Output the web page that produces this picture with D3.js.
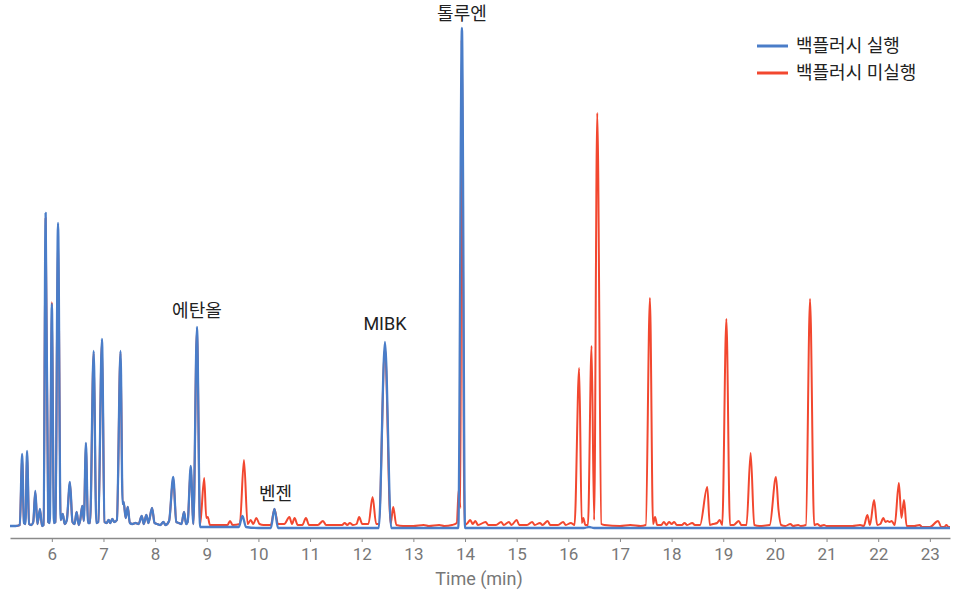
<!DOCTYPE html>
<html><head><meta charset="utf-8">
<script src="https://cdn.jsdelivr.net/npm/d3@7/dist/d3.min.js"></script>
<style>
body{margin:0;background:#fff;}
svg{display:block;font-family:Roboto,"Noto Sans CJK KR",sans-serif;}
</style></head>
<body><svg id="chart" width="959" height="592"></svg>
<script>
// ---- data (time in min, signal in arbitrary units) ----
const xTicks = [6,7,8,9,10,11,12,13,14,15,16,17,18,19,20,21,22,23];
const seriesNames = ["백플러시 실행","백플러시 미실행"];
const seriesColors = ["#4a7dc8","#f2472f"];
const xTitle = "Time (min)";

const blueTime = [5.19,5.30,5.38,5.425,5.46,5.49,5.52,5.56,5.60,5.64,5.68,5.72,5.77,5.81,5.84,5.88,5.93,5.96,6.00,6.04,6.07,6.12,6.17,6.21,6.25,6.29,6.35,6.40,6.44,6.48,6.52,6.55,6.59,6.62,6.66,6.70,6.74,6.81,6.86,6.90,6.97,7.02,7.06,7.10,7.13,7.17,7.21,7.26,7.33,7.37,7.39,7.43,7.47,7.51,7.56,7.62,7.68,7.74,7.78,7.83,7.87,7.94,7.99,8.04,8.10,8.16,8.20,8.27,8.35,8.41,8.46,8.51,8.56,8.60,8.63,8.69,8.74,8.81,8.87,8.95,9.3,9.62,9.69,9.76,10.0,10.24,10.31,10.38,11.0,12.0,12.33,12.45,12.57,13.0,13.5,13.87,13.94,14.0,14.5,16.3,16.4,16.5,17.0,20.0,23.39];
const blueSignal = [2,2,3,74,5,4,77,4,3,6,37,4,19,2,3,315,6,5,224,5,6,305,8,14,4,8,46,6,4,16,3,8,22,7,85,5,5,177,5,6,189,6,5,8,5,9,6,8,177,24,26,10,21,5,4,5,4,12,4,13,5,20,5,4,3,6,3,7,51,6,5,4,16,4,6,62,4,201,1,1,1,1,12,1,0,0,19,0,0,0,0,186,0,0,0,0,500,0,0,0,1,0,0,0,0];

const redTime = [5.19,5.30,5.38,5.425,5.46,5.49,5.52,5.56,5.60,5.64,5.68,5.72,5.77,5.81,5.84,5.88,5.93,5.96,6.00,6.04,6.07,6.12,6.17,6.21,6.25,6.29,6.35,6.40,6.44,6.48,6.52,6.55,6.59,6.62,6.66,6.70,6.74,6.81,6.86,6.90,6.97,7.02,7.06,7.10,7.13,7.17,7.21,7.26,7.33,7.37,7.39,7.43,7.47,7.51,7.56,7.62,7.68,7.74,7.78,7.83,7.87,7.94,7.99,8.04,8.10,8.16,8.20,8.27,8.35,8.41,8.46,8.51,8.56,8.60,8.63,8.69,8.74,8.81,8.87,8.95,8.99,9.02,9.06,9.3,9.40,9.45,9.50,9.64,9.72,9.79,9.85,9.90,9.96,10.02,10.1,10.24,10.31,10.38,10.5,10.60,10.65,10.70,10.76,10.85,10.92,10.98,11.15,11.25,11.31,11.5,11.62,11.67,11.72,11.77,11.83,11.9,11.95,12.01,12.13,12.21,12.28,12.33,12.45,12.56,12.61,12.67,12.8,13.0,13.2,13.3,13.5,13.6,13.75,13.84,13.88,13.91,13.935,13.99,14.05,14.1,14.15,14.2,14.25,14.4,14.45,14.6,14.7,14.75,14.85,14.9,15.0,15.05,15.2,15.3,15.35,15.45,15.5,15.6,15.65,15.8,15.9,15.95,16.05,16.12,16.21,16.26,16.29,16.33,16.38,16.45,16.50,16.56,16.64,16.7,17.0,17.2,17.4,17.5,17.58,17.64,17.68,17.72,17.8,17.85,17.9,17.95,18.0,18.05,18.1,18.2,18.25,18.3,18.4,18.45,18.55,18.69,18.74,18.8,18.88,18.93,18.98,19.06,19.13,19.2,19.30,19.35,19.45,19.53,19.60,19.7,19.9,20.02,20.07,20.12,20.2,20.3,20.35,20.45,20.5,20.6,20.68,20.76,20.82,20.88,20.95,21.0,21.5,21.65,21.72,21.79,21.84,21.92,21.98,22.04,22.10,22.14,22.18,22.22,22.26,22.32,22.40,22.45,22.50,22.55,22.7,22.8,22.85,23.0,23.16,23.22,23.28,23.32,23.36,23.39];
const redSignal = [2,2,3,72,5,4,75,4,3,6,36,4,18,2,3,310,6,5,226,5,6,300,8,14,4,8,45,6,4,16,3,8,22,7,84,5,5,175,5,6,186,6,5,8,5,9,6,8,175,24,26,10,21,5,4,5,4,12,4,13,5,20,5,4,3,6,3,7,50,6,5,4,16,4,6,60,4,198,3,50,10,11,3,3,3,7,3,4,68,4,8,4,10,4,3,3,19,4,4,11,4,10,3,3,10,3,3,7,3,3,3,5,3,5,3,4,11,4,4,31,4,4,180,4,21,3,2,2,3,2,3,2,3,5,39,20,488,3,5,8,4,7,3,6,3,3,6,3,6,3,8,3,3,6,3,5,3,7,3,3,6,3,5,3,160,5,10,3,3,182,8,415,4,3,2,3,2,3,230,4,11,3,3,6,3,6,4,6,3,3,5,3,5,3,3,41,3,4,5,8,3,209,3,3,7,3,3,75,3,2,3,51,18,3,2,4,2,3,2,3,229,3,4,2,3,2,2,3,2,13,3,28,3,4,10,6,7,6,7,3,45,10,28,2,2,3,1,1,7,1,1,3,1,1];

const labels = [
  {text:"톨루엔", t:13.94, v:500},
  {text:"에탄올", t:8.81, v:201},
  {text:"MIBK", t:12.45, v:186},
  {text:"벤젠", t:10.31, v:19}
];

// ---- drawing ----
const svg = d3.select("#chart");
const x = d3.scaleLinear().domain([5.19, 23.39]).range([10, 950]);
const y = d3.scaleLinear().domain([0, 500]).range([528, 28]);

const line = d3.line().x(d=>x(d[0])).y(d=>y(d[1])).curve(d3.curveMonotoneX);

const red = d3.zip(redTime, redSignal);
const blue = d3.zip(blueTime, blueSignal);

svg.append("path").datum(red).attr("d", line)
  .attr("fill","none").attr("stroke",seriesColors[1]).attr("stroke-width",2).attr("stroke-linejoin","round");
svg.append("path").datum(blue).attr("d", line)
  .attr("fill","none").attr("stroke",seriesColors[0]).attr("stroke-width",2.3).attr("stroke-linejoin","round");

// axis
const ax = svg.append("g").attr("transform","translate(0,538)")
  .call(d3.axisBottom(x).tickValues(xTicks).tickFormat(d3.format("d")).tickSize(4).tickSizeOuter(0));
ax.select(".domain").attr("stroke","#8a8a8a").attr("stroke-width",1.5);
ax.selectAll(".tick line").attr("stroke","#8a8a8a");
ax.selectAll(".tick text").attr("fill","#777").attr("font-size",17).attr("dy","0.9em")
  .attr("font-family","Roboto,sans-serif");

svg.append("text").attr("x",479).attr("y",585).attr("text-anchor","middle")
  .attr("fill","#777").attr("font-size",18).text(xTitle);

// peak labels
const labelOffset = {"톨루엔":[0,-8],"에탄올":[0,-10],"MIBK":[0,-12],"벤젠":[1,-9]};
svg.selectAll(".plabel").data(labels).join("text").attr("class","plabel")
  .attr("x",d=>x(d.t)+labelOffset[d.text][0]).attr("y",d=>y(d.v)+labelOffset[d.text][1])
  .attr("text-anchor","middle").attr("fill","#222").attr("font-size",18).text(d=>d.text);

// legend
const lg = svg.append("g").attr("transform","translate(757,46)");
seriesNames.forEach((n,i)=>{
  const g = lg.append("g").attr("transform",`translate(0,${i*27})`);
  g.append("line").attr("x1",0).attr("x2",31).attr("y1",0).attr("y2",0)
    .attr("stroke",seriesColors[i]).attr("stroke-width",3);
  g.append("text").attr("x",39).attr("y",0).attr("dy","0.35em")
    .attr("font-size",18).attr("fill","#222").text(n);
});
</script></body></html>
